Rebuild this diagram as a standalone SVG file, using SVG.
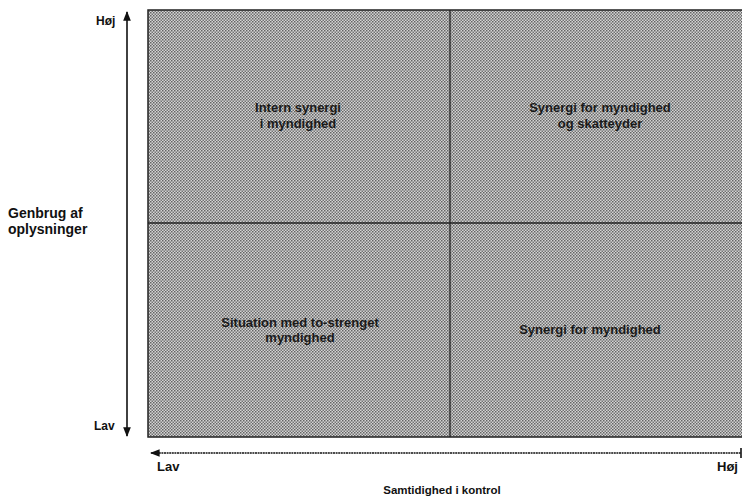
<svg xmlns="http://www.w3.org/2000/svg" width="742" height="500" viewBox="0 0 742 500">
<style>
text{font-family:"Liberation Sans",Arial,sans-serif;font-weight:bold;font-size:11.5px;fill:#111}
.q{text-anchor:middle;fill:#1a1a1a;font-size:13px}
.g{font-size:14px}
.b{font-size:13px}
.s{font-size:12px}
.ax{stroke:#111;stroke-width:1.6;fill:none}
</style>
<defs>
<pattern id="ht" width="3" height="3" patternUnits="userSpaceOnUse">
<rect width="3" height="3" fill="#d4d4d4"/>
<rect width="1.5" height="1.5" fill="#646464"/>
<rect x="1.5" y="1.5" width="1.5" height="1.5" fill="#747474"/>
</pattern>
<marker id="ah" viewBox="0 0 10 10" refX="9" refY="5" markerWidth="6" markerHeight="6" orient="auto-start-reverse">
<path d="M0,1 L10,5 L0,9 Z" fill="#111"/>
</marker>
</defs>
<g id="grid">
<rect x="148" y="10" width="600" height="427" fill="url(#ht)" stroke="#222" stroke-width="1.5"/>
<line x1="450" y1="10" x2="450" y2="437" stroke="#222" stroke-width="1.3"/>
<line x1="148" y1="223" x2="742" y2="223" stroke="#222" stroke-width="1.3"/>
</g>
<g id="connectors">
<line class="ax" x1="127" y1="12" x2="127" y2="436" marker-start="url(#ah)" marker-end="url(#ah)"/>
<line class="ax" x1="151" y1="453" x2="741" y2="453" stroke-dasharray="2 0.6" marker-start="url(#ah)"/>
<line class="ax" x1="741" y1="448" x2="741" y2="458"/>
</g>
<g id="q1"><text class="q" x="298" y="112">Intern synergi</text><text class="q" x="298" y="128">i myndighed</text></g>
<g id="q2"><text class="q" x="600" y="112">Synergi  for myndighed</text><text class="q" x="600" y="128">og skatteyder</text></g>
<g id="q3"><text class="q" x="300" y="327">Situation med to-strenget</text><text class="q" x="300" y="342">myndighed</text></g>
<g id="q4"><text class="q" x="590" y="334">Synergi for myndighed</text></g>
<g id="labels">
<text class="s" x="96" y="25">Høj</text>
<text class="s" x="94" y="430">Lav</text>
<text class="g" x="8" y="218">Genbrug af</text>
<text class="g" x="8" y="234">oplysninger</text>
<text class="b" x="157" y="471">Lav</text>
<text class="b" x="717" y="471">Høj</text>
<text x="442" y="494" text-anchor="middle">Samtidighed i kontrol</text>
</g>
</svg>
